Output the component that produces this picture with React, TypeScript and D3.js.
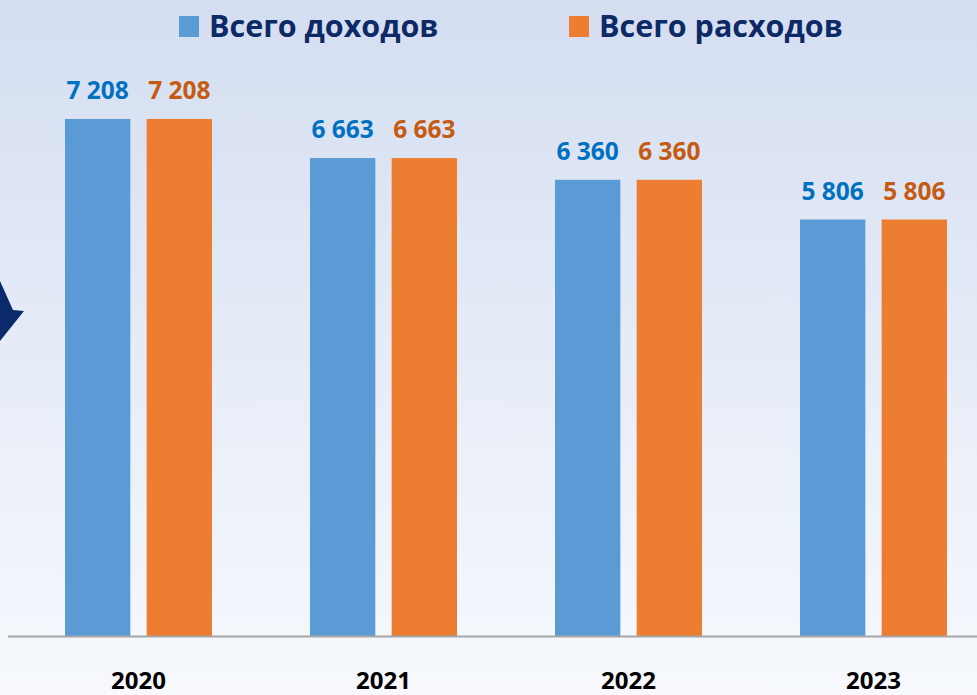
import React from "react";
import * as d3 from "d3";

const years = ["2020", "2021", "2022", "2023"];
const incomes = [7208, 6663, 6360, 5806];
const expenses = [7208, 6663, 6360, 5806];
const seriesNames = ["Всего доходов", "Всего расходов"];
const labelFmt = (v: number) => d3.format(",")(v).replace(/,/g, " ");

const W = 977;
const H = 695;
const FONT = "'Open Sans', 'DejaVu Sans', sans-serif";

export default function App() {
  const x = d3.scaleBand<string>().domain(years).range([16, 996]).paddingInner(0).paddingOuter(0);
  const inner = d3.scaleBand<string>().domain(["inc", "exp"]).range([-73.5, 73.5]).paddingInner(0.2).paddingOuter(0);
  const y = d3.scaleLinear().domain([0, 8000]).range([636, 636 - 8000 * 0.07173]);
  const series = [
    { key: "inc", values: incomes, fill: "#5B9BD5", label: "#0070C0" },
    { key: "exp", values: expenses, fill: "#ED7D31", label: "#C55A11" },
  ];
  const legend = [
    { name: seriesNames[0], fill: "#5B9BD5", x: 179 },
    { name: seriesNames[1], fill: "#ED7D31", x: 569 },
  ];
  return (
    <svg width={W} height={H} style={{ position: "absolute", left: 0, top: 0, display: "block" }}>
      <defs>
        <linearGradient id="bg" x1="0" y1="0" x2="0" y2="1">
          <stop offset="0" stopColor="#D4DEF1" />
          <stop offset="1" stopColor="#F7F9FD" />
        </linearGradient>
      </defs>
      <rect x={0} y={0} width={W} height={H} fill="url(#bg)" />
      <polygon points="0,281 13,310 24,311 0,341" fill="#0B2A6B" />
      {legend.map((l) => (
        <g key={l.name}>
          <rect x={l.x} y={16} width={20} height={21} fill={l.fill} />
          <text x={l.x + 30} y={37} fontFamily={FONT} fontWeight={700} fontSize={30.5} fill="#0D2A66">
            {l.name}
          </text>
        </g>
      ))}
      {series.map((s) =>
        years.map((yr, i) => {
          const cx = (x(yr) as number) + x.bandwidth() / 2 + (inner(s.key) as number);
          const bw = inner.bandwidth();
          return (
            <g key={s.key + yr}>
              <rect x={cx} y={y(s.values[i])} width={bw} height={y(0) - y(s.values[i])} fill={s.fill} />
              <text
                x={cx + bw / 2}
                y={y(s.values[i]) - 20}
                textAnchor="middle"
                fontFamily={FONT}
                fontWeight={700}
                fontSize={24.5}
                fill={s.label}
              >
                {labelFmt(s.values[i])}
              </text>
            </g>
          );
        })
      )}
      <line x1={8} x2={W} y1={y(0) + 0.5} y2={y(0) + 0.5} stroke="#A6A6A6" strokeWidth={2} />
      {years.map((yr) => (
        <text
          key={yr}
          x={(x(yr) as number) + x.bandwidth() / 2}
          y={689}
          textAnchor="middle"
          fontFamily={FONT}
          fontWeight={700}
          fontSize={24}
          fill="#000"
        >
          {yr}
        </text>
      ))}
    </svg>
  );
}
